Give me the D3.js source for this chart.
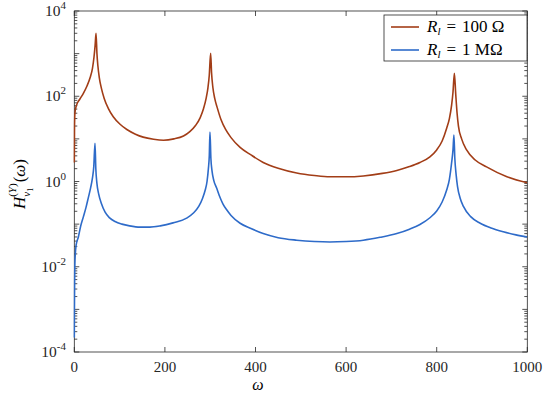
<!DOCTYPE html>
<html><head><meta charset="utf-8">
<script src="https://cdn.jsdelivr.net/npm/d3@7"></script>
<style>body{margin:0;background:#fff}svg{display:block}</style>
</head><body><svg id="c" width="550" height="398"></svg>
<script>
const omegaRed = [0,0.5,1.5,5,12,20,28,35,40,43.5,46,48,50,52,55,60,66,75,86,101,116,135,152,175,197,220,241,255,268,278,285,291,295,298,301,303,306,310,316,324,334,346,366,390,417,450,491,530,564,600,638,680,712,740,763,785,800,812,822,828,833,836,839,842,845,848,855,866,885,910,955,1000];
const valuesRed = [2.8,20,42,62,85,117,174,275,447,832,1585,3000,1000,525,282,151,89,52,33,22,16.6,12.9,11,9.8,9.3,10,11.7,14.8,20.9,31.6,50,89,158,316,1020,355,158,89,52,28,16.6,10.7,6.3,4.2,2.8,2.04,1.58,1.38,1.29,1.29,1.35,1.55,1.82,2.24,2.8,3.8,5.5,8.9,17.8,30,63,126,347,112,40,20,10,5.5,3.2,2.2,1.29,0.93];
const omegaBlue = [0,0.3,0.7,1.5,4,9,14,20,26,31,36,40,43,45.7,47.5,50,54,60,68,78,90,105,122,145,167,190,218,248,263,275,283,289,293,296,298,299.5,301.5,304,308,314,320,328,336,346,366,390,417,450,491,530,564,600,638,675,712,740,763,785,800,812,822,828,833,836,838,840,843,846,852,859,875,896,920,947,975,1000];
const valuesBlue = [2.2e-4,1e-3,4e-3,0.014,0.032,0.05,0.089,0.148,0.25,0.42,0.71,1.2,2.24,7.9,2.0,0.89,0.5,0.3,0.19,0.14,0.115,0.1,0.091,0.085,0.085,0.091,0.107,0.138,0.182,0.263,0.4,0.63,1.0,2.0,4.0,14.5,3.5,1.78,1.05,0.71,0.47,0.3,0.22,0.16,0.105,0.079,0.06,0.048,0.042,0.039,0.038,0.039,0.042,0.049,0.06,0.076,0.098,0.141,0.204,0.33,0.63,1.12,2.8,5.6,12.3,3.5,1.41,0.76,0.4,0.26,0.15,0.105,0.081,0.066,0.056,0.05];
const xTicks = [0,200,400,600,800,1000];
const yLabelExps = [-4,-2,0,2,4];
const seriesNames = ["100 Ω","1 MΩ"];
const colors = ["#a23d17","#2e6bc9"];

const svg = d3.select("#c");
const L=74.3, R=527.3, T=11, B=352;
const x = d3.scaleLinear().domain([0,1000]).range([L,R]);
const y = d3.scaleLog().domain([1e-4,1e4]).range([B,T]);
const axisCol = "#262626";
const serif = "'Liberation Serif','Times New Roman',serif";

// box
svg.append("rect").attr("x",L).attr("y",T).attr("width",R-L).attr("height",B-T)
  .attr("fill","none").attr("stroke",axisCol).attr("stroke-width",0.8);

// x ticks
const g = svg.append("g").attr("stroke",axisCol).attr("stroke-width",0.8);
xTicks.forEach(t=>{
  g.append("line").attr("x1",x(t)).attr("x2",x(t)).attr("y1",B).attr("y2",B-5);
  g.append("line").attr("x1",x(t)).attr("x2",x(t)).attr("y1",T).attr("y2",T+5);
  svg.append("text").attr("x",x(t)).attr("y",372).attr("text-anchor","middle")
    .attr("font-family",serif).attr("font-size",15).attr("fill","#262626").text(t);
});
// y ticks
for(let e=-4;e<=4;e++){
  const v = Math.pow(10,e);
  [[L,1],[R,-1]].forEach(([ax,dir])=>{
    g.append("line").attr("x1",ax).attr("x2",ax+dir*5).attr("y1",y(v)).attr("y2",y(v));
  });
  if(e<4){
    for(let m=2;m<=9;m++){
      const vv=m*v;
      [[L,1],[R,-1]].forEach(([ax,dir])=>{
        g.append("line").attr("x1",ax).attr("x2",ax+dir*3).attr("y1",y(vv)).attr("y2",y(vv));
      });
    }
  }
}
yLabelExps.forEach(e=>{
  const t = svg.append("text").attr("x",66).attr("y",y(Math.pow(10,e))+5)
    .attr("text-anchor","end").attr("font-family",serif).attr("font-size",15.5).attr("fill","#262626");
  t.append("tspan").text("10");
  t.append("tspan").attr("dy",-7).attr("font-size",11).text(String(e));
});

// curves
const clip = svg.append("clipPath").attr("id","cp").append("rect")
  .attr("x",L-1).attr("y",T).attr("width",R-L+1).attr("height",B-T);
const line = d3.line().x(d=>x(d[0])).y(d=>y(d[1])).curve(d3.curveMonotoneX);
[{om: omegaRed, v: valuesRed, c: colors[0]},{om: omegaBlue, v: valuesBlue, c: colors[1]}].forEach(s=>{
  svg.append("path").datum(s.om.map((o,i)=>[o,s.v[i]]))
    .attr("d",line).attr("fill","none").attr("stroke",s.c)
    .attr("stroke-width",1.6).attr("stroke-linejoin","round").attr("clip-path","url(#cp)");
});

// x label
svg.append("text").attr("x",258).attr("y",390).attr("text-anchor","middle")
  .attr("font-family",serif).attr("font-style","italic").attr("font-size",16).attr("fill","#000").text("ω");

// y label
const yl = svg.append("text").attr("transform","translate(25,184) rotate(-90)")
  .attr("text-anchor","middle").attr("font-family",serif).attr("font-size",17).attr("fill","#000");
yl.append("tspan").attr("font-style","italic").text("H");
yl.append("tspan").attr("font-style","italic").attr("font-size",11).attr("dy",5).text("v");
yl.append("tspan").attr("font-size",8).attr("dy",3).text("1");
yl.append("tspan").attr("font-size",11).attr("dx",-9).attr("dy",-17).text("(");
yl.append("tspan").attr("font-size",11).attr("font-style","italic").text("Y");
yl.append("tspan").attr("font-size",11).text(")");
yl.append("tspan").attr("dy",9).attr("dx",1).text("(");
yl.append("tspan").attr("font-style","italic").text("ω");
yl.append("tspan").text(")");

// legend
const lg = svg.append("g");
lg.append("rect").attr("x",384).attr("y",15).attr("width",143).attr("height",46)
  .attr("fill","#fff").attr("stroke",axisCol).attr("stroke-width",0.8);
seriesNames.forEach((n,i)=>{
  const yy = 27+i*23;
  lg.append("line").attr("x1",391).attr("x2",419).attr("y1",yy).attr("y2",yy)
    .attr("stroke",colors[i]).attr("stroke-width",1.6);
  const t = lg.append("text").attr("x",427).attr("y",yy+5).attr("font-family",serif)
    .attr("font-size",17).attr("fill","#000");
  t.append("tspan").attr("font-style","italic").text("R");
  t.append("tspan").attr("font-style","italic").attr("font-size",11).attr("dy",3).text("l");
  t.append("tspan").attr("dy",-3).attr("dx",6).text("=");
  t.append("tspan").attr("dx",6).text(n);
});
</script></body></html>
